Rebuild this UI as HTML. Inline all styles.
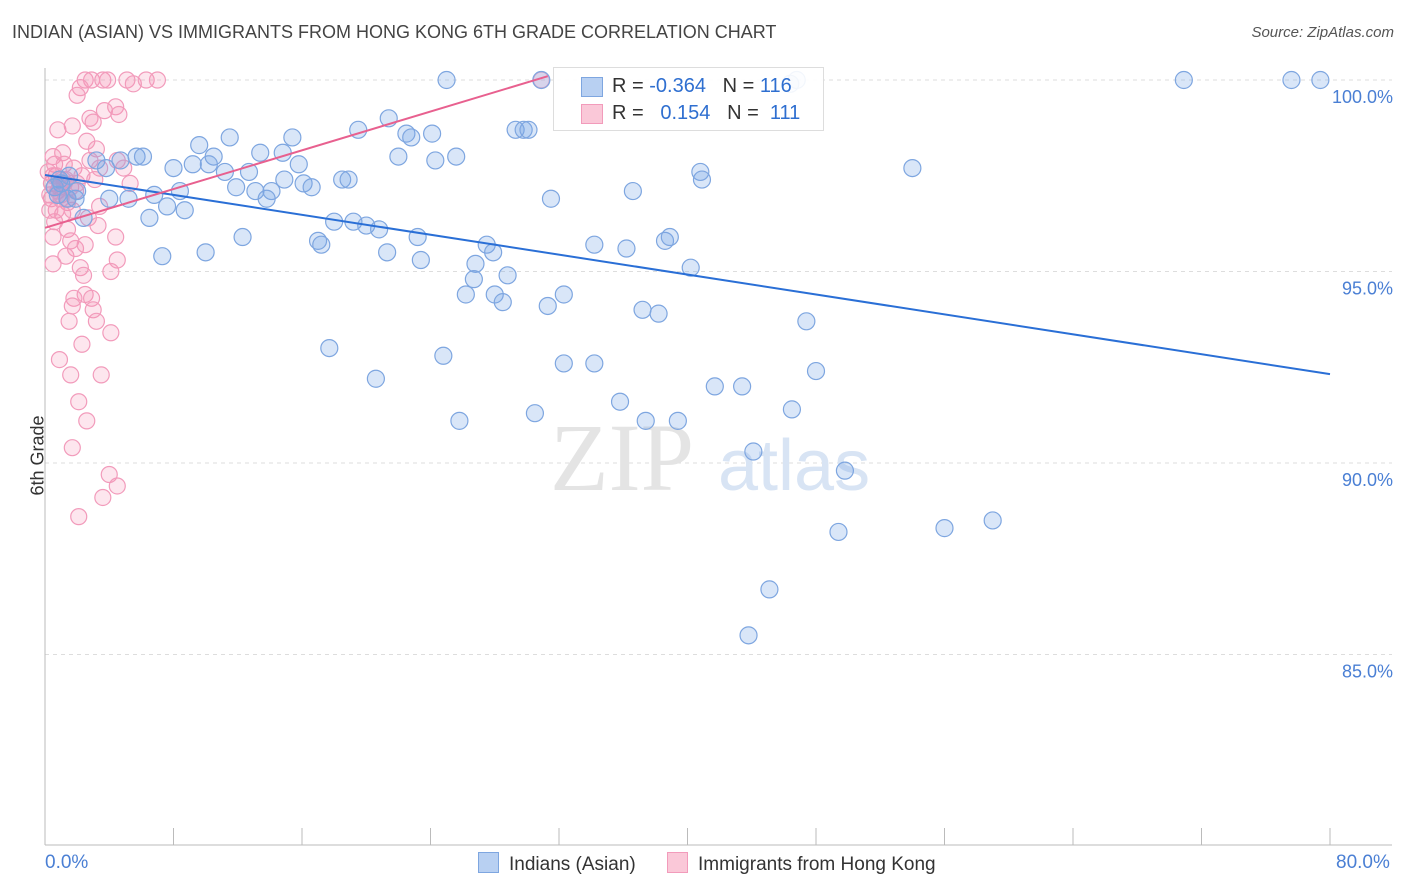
<!DOCTYPE html>
<html><head><meta charset="utf-8">
<style>
body{margin:0;background:#fff;font-family:"Liberation Sans",sans-serif;}
#wrap{position:relative;width:1406px;height:892px;overflow:hidden;}
.t{position:absolute;white-space:nowrap;}
</style></head><body>
<div id="wrap">
<div class="t" style="left:12px;top:22px;font-size:18px;color:#444;">INDIAN (ASIAN) VS IMMIGRANTS FROM HONG KONG 6TH GRADE CORRELATION CHART</div>
<div class="t" style="right:12px;top:24px;font-size:15px;color:#555;font-style:italic;">Source: ZipAtlas.com</div>
<svg id="svg" width="1406" height="892" style="position:absolute;left:0;top:0"></svg>
</div>
<script>
const blueX=[25.0,46.8,70.9,77.6,79.4,46.4,30.9,21.4,19.5,22.5,24.1,22.8,29.3,29.8,30.1,11.5,15.4,9.6,13.4,14.8,22.0,25.6,24.3,10.5,5.7,6.1,4.7,3.2,3.8,8.0,9.2,10.2,15.8,11.2,12.7,14.9,16.1,16.6,18.5,18.9,11.9,13.1,14.1,13.8,8.4,6.8,5.2,4.0,1.9,1.4,7.6,8.7,6.5,2.4,0.6,0.9,40.8,40.9,36.6,31.5,54.0,18.0,19.2,20.0,20.8,12.3,17.0,17.2,23.2,27.5,27.9,21.3,23.4,34.2,36.2,38.6,38.9,40.2,7.3,10.0,26.8,26.7,28.8,26.2,28.0,28.5,32.3,31.3,37.2,38.2,47.4,17.7,24.8,32.3,34.2,20.6,41.7,43.4,48.0,35.8,46.5,30.5,25.8,37.4,39.4,44.1,49.8,49.4,56.0,59.0,45.1,43.8,1.0,2.0,1.5,0.8];
const blueY=[100,100,100,100,100,99.9,100,99.0,98.7,98.6,98.6,98.5,98.7,98.7,98.7,98.5,98.5,98.3,98.1,98.1,98.0,98.0,97.9,98.0,98.0,98.0,97.9,97.9,97.7,97.7,97.8,97.8,97.8,97.6,97.6,97.4,97.3,97.2,97.4,97.4,97.2,97.1,97.1,96.9,97.1,97.0,96.9,96.9,96.9,96.9,96.7,96.6,96.4,96.4,97.2,97.4,97.6,97.4,97.1,96.9,97.7,96.3,96.3,96.2,96.1,95.9,95.8,95.7,95.9,95.7,95.5,95.5,95.3,95.7,95.6,95.8,95.9,95.1,95.4,95.5,95.2,94.8,94.9,94.4,94.4,94.2,94.4,94.1,94.0,93.9,93.7,93.0,92.8,92.6,92.6,92.2,92.0,92.0,92.4,91.6,91.4,91.3,91.1,91.1,91.1,90.3,89.8,88.2,88.3,88.5,86.7,85.5,97.3,97.1,97.5,97.0];
const pinkX=[2.5,2.9,3.6,3.9,5.1,5.5,6.3,7.0,2.2,2.0,4.4,3.7,4.6,2.8,3.0,0.8,1.7,2.6,3.2,1.1,0.5,0.6,1.2,1.8,2.8,4.5,4.9,3.4,0.7,1.3,0.4,0.9,1.6,2.3,3.1,5.3,0.4,1.0,1.4,0.7,1.1,1.7,3.4,2.7,0.6,1.4,3.3,4.4,0.5,1.6,1.9,2.5,1.3,4.5,0.5,2.2,4.1,2.4,2.5,1.8,2.9,1.7,3.0,3.2,1.5,4.1,2.3,0.9,1.6,3.5,2.1,2.6,1.7,4.0,4.5,3.6,2.1,30.9,0.3,0.8,1.2,0.5,1.0,1.4,0.6,0.2,1.9,2.0,0.3,1.1];
const pinkY=[100,100,100,100,100,99.9,100,100,99.8,99.6,99.3,99.2,99.1,99.0,98.9,98.7,98.8,98.4,98.2,98.1,98.0,97.8,97.8,97.7,97.9,97.9,97.7,97.7,97.5,97.4,97.3,97.2,97.2,97.5,97.4,97.3,96.9,96.9,96.8,96.6,96.5,96.6,96.7,96.4,96.3,96.1,96.2,95.9,95.9,95.8,95.6,95.7,95.4,95.3,95.2,95.1,95.0,94.9,94.4,94.3,94.3,94.1,94.0,93.7,93.7,93.4,93.1,92.7,92.3,92.3,91.6,91.1,90.4,89.7,89.4,89.1,88.6,100,97.0,97.1,97.3,97.5,97.0,96.9,97.2,97.6,97.1,97.3,96.6,97.4];
const blueTrend=[97.52,92.32];
const pinkTrend=[96.14,100.1];
const pinkTrendEnd=31.3;
const yTicks=[100,95,90,85];
const yTickLabels=["100.0%","95.0%","90.0%","85.0%"];
const xTicks=[0,8,16,24,32,40,48,56,64,72,80];

const X=v=>45+v*16.0625, Y=v=>80+(100-v)*38.3;
const svg=document.getElementById('svg');
const NS='http://www.w3.org/2000/svg';
function mk(tag,attrs,name){const e=document.createElementNS(NS,tag);for(const k in attrs)e.setAttribute(k,attrs[k]);


svg.appendChild(e);return e;}
yTicks.forEach((v,i)=>{
 mk('line',{x1:45,x2:1392,y1:Y(v),y2:Y(v),stroke:'#ddd','stroke-dasharray':'4,4'},'gridline');
 const t=mk('text',{x:1393,y:Y(v)+23,'text-anchor':'end','font-size':18,fill:'#4a7fd4','font-family':'Liberation Sans'},'y-tick-label');t.textContent=yTickLabels[i];
});
mk('line',{x1:45,x2:45,y1:68,y2:845,stroke:'#bbb'},'y-axis-line');
mk('line',{x1:45,x2:1392,y1:845,y2:845,stroke:'#bbb'},'x-axis-line');
xTicks.forEach(v=>mk('line',{x1:X(v),x2:X(v),y1:828,y2:845,stroke:'#bbb'},'x-tick'));
let w=mk('text',{x:550,y:490,'font-size':96,fill:'#e4e4e4','font-family':'Liberation Serif'},'watermark-zip');w.textContent='ZIP';
w=mk('text',{x:718,y:490,'font-size':72,fill:'#d8e4f4','font-family':'Liberation Sans'},'watermark-atlas');w.textContent='atlas';
pinkX.forEach((x,i)=>mk('circle',{cx:X(x),cy:Y(pinkY[i]),r:8,fill:'rgba(244,140,176,0.22)',stroke:'#f29bbb','stroke-width':1.2},'pink-point'));
blueX.forEach((x,i)=>mk('circle',{cx:X(x),cy:Y(blueY[i]),r:8.5,fill:'rgba(120,165,230,0.28)',stroke:'#7ea6e0','stroke-width':1.2},'blue-point'));
mk('line',{x1:X(0),y1:Y(blueTrend[0]),x2:X(80),y2:Y(blueTrend[1]),stroke:'#2a6fd6','stroke-width':2},'blue-trendline');
mk('line',{x1:X(0),y1:Y(pinkTrend[0]),x2:X(pinkTrendEnd),y2:Y(pinkTrend[1]),stroke:'#e8608f','stroke-width':2},'pink-trendline');
</script>
<div style="position:absolute;left:553px;top:67px;width:269px;height:62px;border:1px solid #ddd;background:rgba(255,255,255,0.9);font-size:20px;">
 <div style="position:absolute;left:27px;top:9px;width:20px;height:18px;background:#b8d0f2;border:1px solid #7ea6e0;"></div>
 <div style="position:absolute;left:27px;top:36px;width:20px;height:18px;background:#fac8d8;border:1px solid #f29bbb;"></div>
 <div class="t" style="left:58px;top:7px;color:#333;">R = <span style="color:#2f6fd0">-0.364</span>&nbsp;&nbsp;&nbsp;N = <span style="color:#2f6fd0">116</span></div>
 <div class="t" style="left:58px;top:34px;color:#333;">R = &nbsp;&nbsp;<span style="color:#2f6fd0">0.154</span>&nbsp;&nbsp;&nbsp;N = &nbsp;<span style="color:#2f6fd0">111</span></div>
</div>
<div class="t" style="left:45px;top:852px;font-size:19px;color:#4a7fd4;">0.0%</div>
<div class="t" style="left:1336px;top:852px;font-size:19px;color:#4a7fd4;">80.0%</div>
<div class="t" style="left:-2px;top:445px;font-size:18px;color:#333;transform:rotate(-90deg);">6th Grade</div>
<div style="position:absolute;left:478px;top:852px;font-size:19px;color:#333;">
 <span style="display:inline-block;"><span style="display:inline-block;width:19px;height:19px;background:#b8d0f2;border:1px solid #7ea6e0;vertical-align:-3px;margin-right:10px;"></span>Indians (Asian)</span>
 <span style="display:inline-block;margin-left:26px;"><span style="display:inline-block;width:19px;height:19px;background:#fac8d8;border:1px solid #f29bbb;vertical-align:-3px;margin-right:10px;"></span>Immigrants from Hong Kong</span>
</div>
</body></html>
